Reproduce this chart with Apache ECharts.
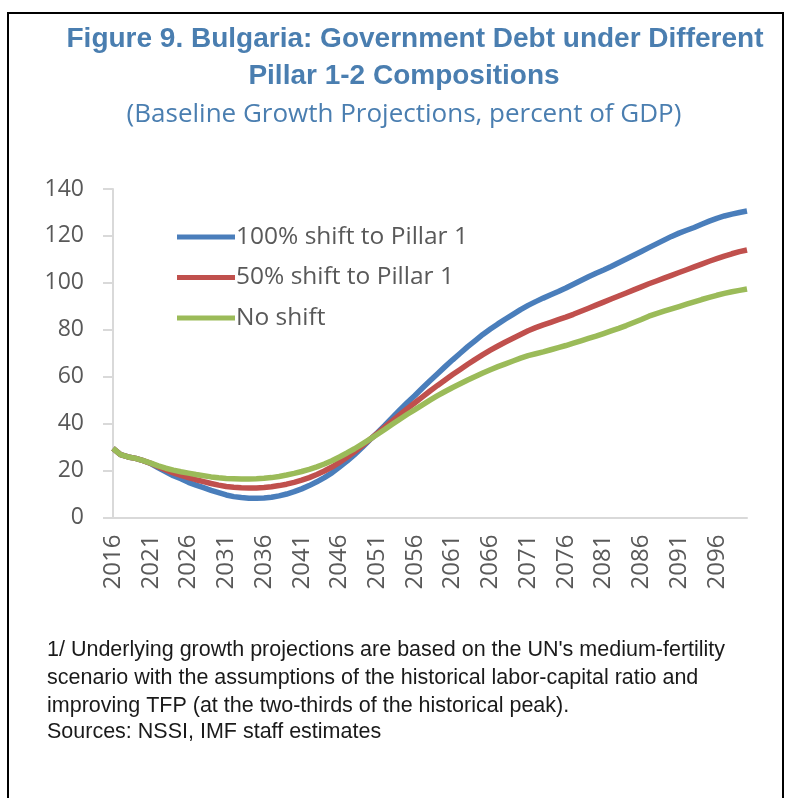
<!DOCTYPE html>
<html>
<head>
<meta charset="utf-8">
<script src="https://cdn.jsdelivr.net/npm/echarts@6/dist/echarts.min.js"></script>
<style>
html,body{margin:0;padding:0;background:#fff;}
#chart{width:787px;height:798px;}
</style>
</head>
<body>
<div id="chart"></div>
<script>
var years = ['2016','2017','2018','2019','2020','2021','2022','2023','2024','2025',
'2026','2027','2028','2029','2030','2031','2032','2033','2034','2035',
'2036','2037','2038','2039','2040','2041','2042','2043','2044','2045',
'2046','2047','2048','2049','2050','2051','2052','2053','2054','2055',
'2056','2057','2058','2059','2060','2061','2062','2063','2064','2065',
'2066','2067','2068','2069','2070','2071','2072','2073','2074','2075',
'2076','2077','2078','2079','2080','2081','2082','2083','2084','2085',
'2086','2087','2088','2089','2090','2091','2092','2093','2094','2095',
'2096','2097','2098','2099','2100'];

var shift100 = [29.5,26.8,25.8,25.2,24.2,23.0,21.2,19.5,17.8,16.5,
15.0,13.8,12.7,11.6,10.6,9.6,8.9,8.5,8.2,8.2,
8.3,8.6,9.2,10.0,11.0,12.2,13.6,15.2,17.0,19.0,
21.5,24.0,26.8,29.8,33.0,36.0,39.2,42.5,45.8,49.0,
52.0,55.2,58.3,61.3,64.3,67.2,70.0,72.8,75.4,78.0,
80.3,82.5,84.6,86.6,88.6,90.4,92.0,93.5,94.9,96.3,
97.8,99.4,101.0,102.6,104.1,105.5,107.0,108.6,110.2,111.8,
113.4,115.0,116.6,118.2,119.8,121.2,122.4,123.6,125.0,126.3,
127.5,128.5,129.3,130.0,130.6];

var shift50 = [29.5,26.8,25.8,25.2,24.2,23.1,21.6,20.3,19.0,18.0,
17.0,16.1,15.3,14.5,13.8,13.2,12.9,12.7,12.6,12.6,
12.8,13.1,13.6,14.2,15.0,15.9,17.0,18.3,19.8,21.5,
23.5,25.7,28.0,30.5,33.2,35.8,38.5,41.2,43.8,46.4,
48.9,51.4,53.9,56.3,58.6,60.9,63.1,65.3,67.4,69.4,
71.3,73.1,74.8,76.4,78.0,79.6,80.9,82.1,83.2,84.3,
85.4,86.6,87.9,89.2,90.5,91.8,93.1,94.4,95.7,97.0,
98.3,99.6,100.8,102.0,103.2,104.4,105.6,106.8,108.0,109.2,
110.3,111.4,112.4,113.3,114.0];

var noShift = [29.5,26.8,25.8,25.2,24.2,23.2,22.0,21.0,20.2,19.5,
18.9,18.3,17.8,17.3,16.9,16.6,16.5,16.4,16.4,16.5,
16.7,17.0,17.5,18.1,18.8,19.6,20.5,21.6,22.8,24.2,
25.8,27.5,29.3,31.3,33.3,35.4,37.5,39.7,41.9,44.0,
46.0,48.0,50.0,51.9,53.7,55.4,57.0,58.6,60.1,61.6,
63.0,64.3,65.5,66.7,67.9,69.0,69.8,70.6,71.5,72.4,
73.3,74.3,75.3,76.3,77.3,78.4,79.5,80.6,81.8,83.1,
84.4,85.8,86.9,87.9,88.9,89.9,90.9,91.9,92.9,93.8,
94.7,95.5,96.2,96.8,97.4];

var seriesNames = ['100% shift to Pillar 1','50% shift to Pillar 1','No shift'];
var yTicks = {min:0, max:140, interval:20};

var titleLines = ['Figure 9. Bulgaria: Government Debt under Different','Pillar 1-2 Compositions'];
var subtitle = '(Baseline Growth Projections, percent of GDP)';
var notes = ["1/ Underlying growth projections are based on the UN's medium-fertility",
"scenario with the assumptions of the historical labor-capital ratio and",
"improving TFP (at the two-thirds of the historical peak).",
"Sources: NSSI, IMF staff estimates"];

var chart = echarts.init(document.getElementById('chart'), null, {renderer:'canvas'});
var blue = '#4a7ebb', red = '#c0504d', green = '#9bbb59';
var titleColor = '#4a7eb0';
var labelFont = '"Open Sans", sans-serif';
var sansFont = '"Liberation Sans", sans-serif';

var graphics = [
  {type:'rect', shape:{x:8,y:13,width:775,height:800}, style:{fill:'none', stroke:'#000', lineWidth:2}, z:-1},
  {type:'text', x:415, y:39, style:{text:titleLines[0], fill:titleColor, font:'bold 28px '+sansFont, textAlign:'center', textVerticalAlign:'middle'}},
  {type:'text', x:404, y:76, style:{text:titleLines[1], fill:titleColor, font:'bold 28px '+sansFont, textAlign:'center', textVerticalAlign:'middle'}},
  {type:'text', x:404, y:115, style:{text:subtitle, fill:titleColor, font:'26px '+labelFont, textAlign:'center', textVerticalAlign:'middle'}}
];
var noteY = [650, 678, 706, 732];
for (var i=0;i<notes.length;i++){
  graphics.push({type:'text', x:47, y:noteY[i], style:{text:notes[i], fill:'#1a1a1a', font:'21.5px '+sansFont, textAlign:'left', textVerticalAlign:'middle'}});
}

chart.setOption({
  animation:false,
  backgroundColor:'#fff',
  grid:{left:113, right:40, top:189, bottom:280.5, containLabel:false},
  legend:{
    show:true, orient:'vertical', left:177, top:223, padding:0,
    itemWidth:58, itemHeight:5, itemGap:12.5, icon:'rect',
    textStyle:{fontFamily:labelFont, fontSize:24.5, color:'#595959', lineHeight:28, padding:[0,0,0,-4]},
    data:seriesNames
  },
  xAxis:{
    type:'category', data:years, boundaryGap:false,
    axisLine:{show:true, lineStyle:{color:'#d9d9d9', width:2}},
    axisTick:{show:false},
    axisLabel:{interval:4, rotate:90, margin:17, color:'#595959', fontFamily:labelFont, fontSize:24},
    splitLine:{show:false}
  },
  yAxis:{
    type:'value', min:yTicks.min, max:yTicks.max, interval:yTicks.interval,
    axisLine:{show:true, lineStyle:{color:'#d9d9d9', width:2}},
    axisTick:{show:true, length:10, lineStyle:{color:'#d9d9d9', width:2}},
    axisLabel:{margin:29, color:'#595959', fontFamily:labelFont, fontSize:23},
    splitLine:{show:false}
  },
  series:[
    {name:seriesNames[0], type:'line', data:shift100, symbol:'none', color:blue, lineStyle:{width:5.5, color:blue}},
    {name:seriesNames[1], type:'line', data:shift50, symbol:'none', color:red, lineStyle:{width:5.5, color:red}},
    {name:seriesNames[2], type:'line', data:noShift, symbol:'none', color:green, lineStyle:{width:5.5, color:green}}
  ],
  graphic:graphics
});
</script>
</body>
</html>
